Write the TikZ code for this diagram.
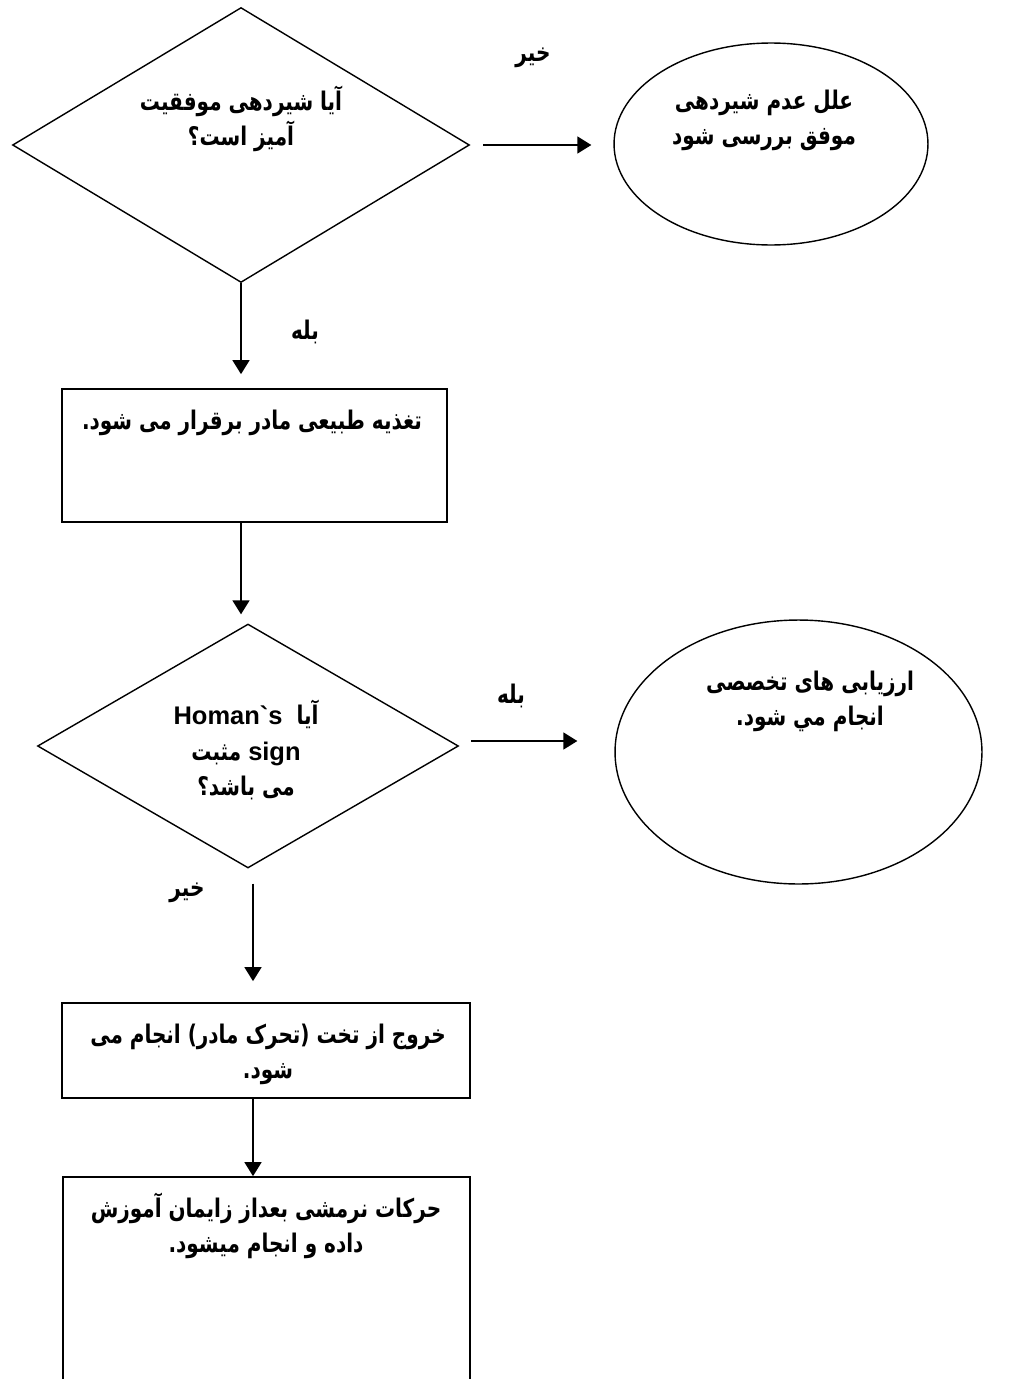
\documentclass[tikz,border=0pt]{standalone}
\usepackage{fontspec}
\setmainfont{Liberation Sans}
\newfontfamily\fafont[Script=Arabic, FakeStretch=0.78]{DejaVu Sans}
\newfontfamily\latfont{Liberation Sans}
\TeXXeTstate=1
\usetikzlibrary{shapes.geometric}
\usetikzlibrary{positioning, arrows.meta}
\newcommand{\rl}[1]{\beginR #1\endR}
\newcommand{\lt}[1]{{\latfont\bfseries\fontsize{14.5}{20}\selectfont\beginL #1\endL}}

\begin{document}
\begin{tikzpicture}[
        x=0.02cm, y=-0.02cm,
        every node/.style={inner sep=0pt},
        decision/.style={draw, diamond, line width=0.8pt},
        outcome/.style={draw, ellipse, line width=0.8pt},
        process/.style={draw, rectangle, line width=1pt},
        txt/.style={font=\fafont\bfseries\fontsize{14.6}{20}\selectfont, align=center},
        link/.style={line width=0.9pt, -{Triangle[length=0.28cm, width=0.34cm]}}]

        \useasboundingbox (0,0) rectangle (1011,1379);
        \clip (0,0) rectangle (1011,1379);

        \node[decision, minimum width=9.14cm, minimum height=5.5cm] (Q1) at (241,145) {};
        \node[outcome, minimum width=6.28cm, minimum height=4.04cm] (Why) at (771,144) {};
        \node[process, minimum width=7.7cm, minimum height=2.66cm] (Feed) at (254.5,455.5) {};
        \node[decision, minimum width=8.42cm, minimum height=4.88cm] (Q2) at (248,746) {};
        \node[outcome, minimum width=7.34cm, minimum height=5.28cm] (Eval) at (798.5,752) {};
        \node[process, minimum width=8.16cm, minimum height=1.9cm] (Exit) at (266,1050.5) {};
        \node[process, minimum width=8.14cm, minimum height=4.86cm] (Exer) at (266.5,1298.5) {};

        \node[txt] (Q1t) at (241,119) {\rl{آیا شیردهی موفقیت}\\\rl{آمیز است؟}};
        \node[txt] (Whyt) at (764,120) {\rl{علل عدم شیردهی}\\\rl{موفق بررسی شود}};
        \node[txt] (Feedt) at (252,423) {\rl{تغذیه طبیعی مادر برقرار می شود.}};
        \node[txt] (Q2t) at (246,750) {\rl{آیا\ \ \lt{Homan`s}}\\\rl{\lt{sign} مثبت}\\\rl{می باشد؟}};
        \node[txt] (Evalt) at (810,701) {\rl{ارزیابی های تخصصی}\\\rl{انجام مي شود.}};
        \node[txt] (Exitt) at (268,1054) {\rl{خروج از تخت (تحرک مادر) انجام می}\\\rl{شود.}};
        \node[txt] (Exert) at (266,1226) {\rl{حرکات نرمشی بعداز زایمان آموزش}\\\rl{داده و انجام میشود.}};

        \node[txt] (No1) at (533,58) {\rl{خیر}};
        \node[txt] (Yes1) at (305,332) {\rl{بله}};
        \node[txt] (Yes2) at (511,696) {\rl{بله}};
        \node[txt] (No2) at (187,893) {\rl{خیر}};

        \draw[link, shorten <=0.26cm, shorten >=0.44cm] (Q1.east) -- (Q1.east -| Why.west);
        \draw[link, shorten >=0.28cm] (Q1.south) -- (Q1.south |- Feed.north);
        \draw[link, shorten >=0.18cm] (Q1.south |- Feed.south) -- (Q1.south |- Q2.north);
        \draw[link, shorten <=0.24cm, shorten >=0.74cm] ([yshift=0.1cm]Q2.east) -- ([yshift=0.1cm]Q2.east -| Eval.west);
        \draw[link, shorten <=0.3cm, shorten >=0.42cm] ([xshift=0.1cm]Q2.south) -- ([xshift=0.1cm]Q2.south |- Exit.north);
        \draw[link] ([xshift=-0.26cm]Exit.south) -- ([xshift=-0.26cm]Exit.south |- Exer.north);

    \end{tikzpicture}
\end{document}
